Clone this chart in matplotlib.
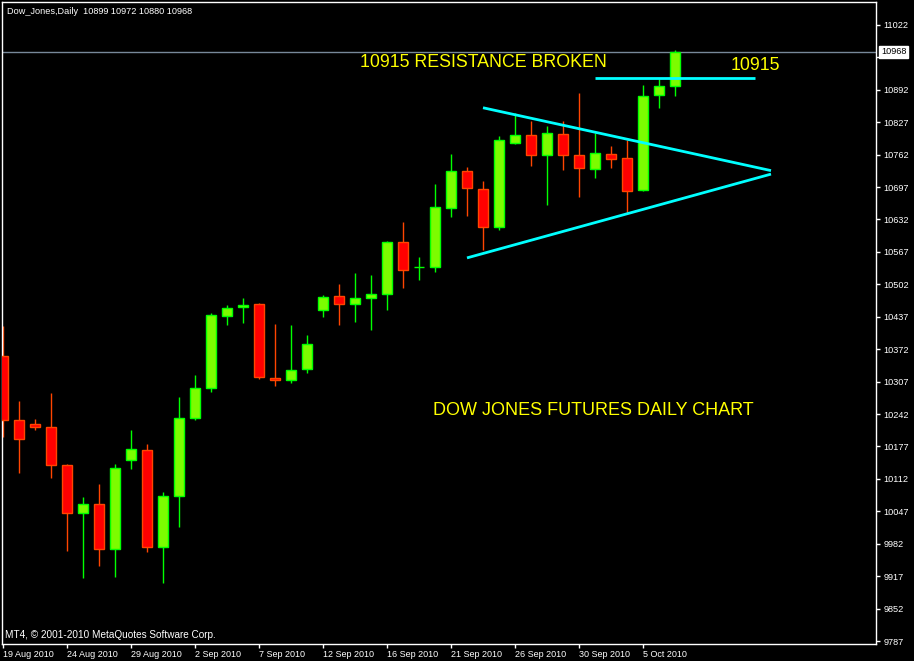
import matplotlib.pyplot as plt

plt.rcParams['font.family'] = ['Liberation Sans', 'DejaVu Sans']

# Daily Dow Jones futures, 19 Aug - 7 Oct 2010 (MT4 style, incl. Sunday bars)
dates = ['19 Aug', '20 Aug', '22 Aug', '23 Aug', '24 Aug', '25 Aug', '26 Aug', '27 Aug',
         '29 Aug', '30 Aug', '31 Aug', '1 Sep', '2 Sep', '3 Sep', '5 Sep', '6 Sep',
         '7 Sep', '8 Sep', '9 Sep', '10 Sep', '12 Sep', '13 Sep', '14 Sep', '15 Sep',
         '16 Sep', '17 Sep', '19 Sep', '20 Sep', '21 Sep', '22 Sep', '23 Sep', '24 Sep',
         '26 Sep', '27 Sep', '28 Sep', '29 Sep', '30 Sep', '1 Oct', '3 Oct', '4 Oct',
         '5 Oct', '6 Oct', '7 Oct']

opens = [10358, 10230, 10223, 10216, 10140, 10043, 10062, 9971, 10149, 10169,
         9975, 10077, 10235, 10295, 10438, 10456, 10462, 10314, 10310, 10332,
         10450, 10478, 10462, 10474, 10482, 10586, 10536, 10536, 10656, 10729,
         10693, 10616, 10785, 10801, 10761, 10803, 10761, 10733, 10763, 10755,
         10691, 10881, 10899]
highs = [10419, 10268, 10232, 10284, 10142, 10076, 10102, 10142, 10210, 10182,
         10086, 10276, 10320, 10445, 10461, 10475, 10464, 10423, 10420, 10400,
         10481, 10503, 10525, 10521, 10589, 10627, 10557, 10703, 10763, 10737,
         10709, 10799, 10845, 10830, 10819, 10830, 10886, 10805, 10779, 10791,
         10902, 10914, 10972]
lows = [10195, 10124, 10209, 10114, 9968, 9914, 9938, 9916, 10132, 9966,
        9904, 10016, 10231, 10287, 10421, 10425, 10313, 10299, 10305, 10325,
        10437, 10421, 10427, 10411, 10451, 10495, 10511, 10527, 10636, 10638,
        10571, 10610, 10783, 10740, 10662, 10732, 10678, 10716, 10736, 10646,
        10689, 10856, 10880]
closes = [10231, 10191, 10217, 10139, 10043, 10062, 9971, 10133, 10171, 9975,
          10077, 10235, 10294, 10440, 10454, 10460, 10316, 10310, 10330, 10382,
          10476, 10462, 10474, 10482, 10586, 10531, 10536, 10658, 10729, 10695,
          10616, 10791, 10801, 10761, 10805, 10761, 10735, 10765, 10753, 10690,
          10879, 10899, 10968]

price_ticks = [9787 + 65 * k for k in range(20)]
label_every = 4

# drawn objects: resistance line and the triangle (bar index, price)
resistance = [(37.0, 10915), (47.0, 10915)]
upper_line = [(30.0, 10856), (48.0, 10730)]
lower_line = [(29.0, 10555), (48.0, 10723)]
last_price = 10968

fig = plt.figure(figsize=(9.14, 6.61), dpi=100, facecolor='black')
ax = fig.add_axes([2 / 914, 17 / 661, 874 / 914, 642 / 661])
ax.set_facecolor('black')

bull_fill, bull_edge = '#7CFC00', '#00FF00'
bear_fill, bear_edge = '#FF0000', '#FF4500'

for i in range(len(opens)):
    o, h, l, c = opens[i], highs[i], lows[i], closes[i]
    up = c >= o
    edge = bull_edge if up else bear_edge
    fill = bull_fill if up else bear_fill
    ax.vlines(i, l, h, color=edge, lw=1, zorder=2)
    if abs(c - o) < 1:
        ax.hlines(o, i - 0.32, i + 0.32, color=edge, lw=1, zorder=3)
    else:
        ax.bar(i, c - o, bottom=o, width=0.62, color=fill, edgecolor=edge,
               linewidth=1, zorder=3)

# current price line + label (covers the 10957 level like in MT4)
ax.axhline(last_price, color='#778899', lw=1, zorder=1)
ax.annotate(str(last_price), xy=(1.0, last_price), xycoords=('axes fraction', 'data'),
            xytext=(3.5, 0), textcoords='offset points', ha='left', va='center',
            fontsize=6.6, color='black', annotation_clip=False, zorder=10,
            bbox=dict(boxstyle='square,pad=0.2', fc='white', ec='white'))

# trend lines
for line in (resistance, upper_line, lower_line):
    ax.plot([p[0] for p in line], [p[1] for p in line], color='#00FFFF', lw=2,
            zorder=4, solid_capstyle='butt')

ax.text(22.3, 10946, '10915 RESISTANCE BROKEN', color='#FFFF00', fontsize=12.8,
        va='center', ha='left')
ax.text(45.5, 10941, '10915', color='#FFFF00', fontsize=12.8, va='center', ha='left')
ax.text(26.9, 10250, 'DOW JONES FUTURES DAILY CHART', color='#FFFF00', fontsize=13.0,
        va='center', ha='left')

ax.set_xlim(-0.0625, 54.5625)
ax.set_ylim(9781, 11068)

for s in ax.spines.values():
    s.set_color('white')
    s.set_linewidth(1)

ax.yaxis.tick_right()
ax.set_yticks(price_ticks)
ax.set_yticklabels(['' if abs(t - last_price) < 20 else str(t) for t in price_ticks])
ax.tick_params(axis='y', colors='white', length=3, width=1, pad=2.5, labelsize=6.6)

xt = list(range(0, len(dates), label_every))
ax.set_xticks(xt)
ax.set_xticklabels([dates[i] + ' 2010' for i in xt], ha='left')
ax.tick_params(axis='x', colors='white', length=3, width=1, pad=1.5, labelsize=6.5)

fig.text(7 / 914, 1 - 11 / 661, 'Dow_Jones,Daily  10899 10972 10880 10968',
         color='white', fontsize=6.6, va='center', ha='left')
fig.text(5 / 914, 1 - 635 / 661, 'MT4, \u00a9 2001-2010 MetaQuotes Software Corp.',
         color='white', fontsize=7.2, va='center', ha='left')

fig.savefig('out.png', dpi=100, facecolor='black')
